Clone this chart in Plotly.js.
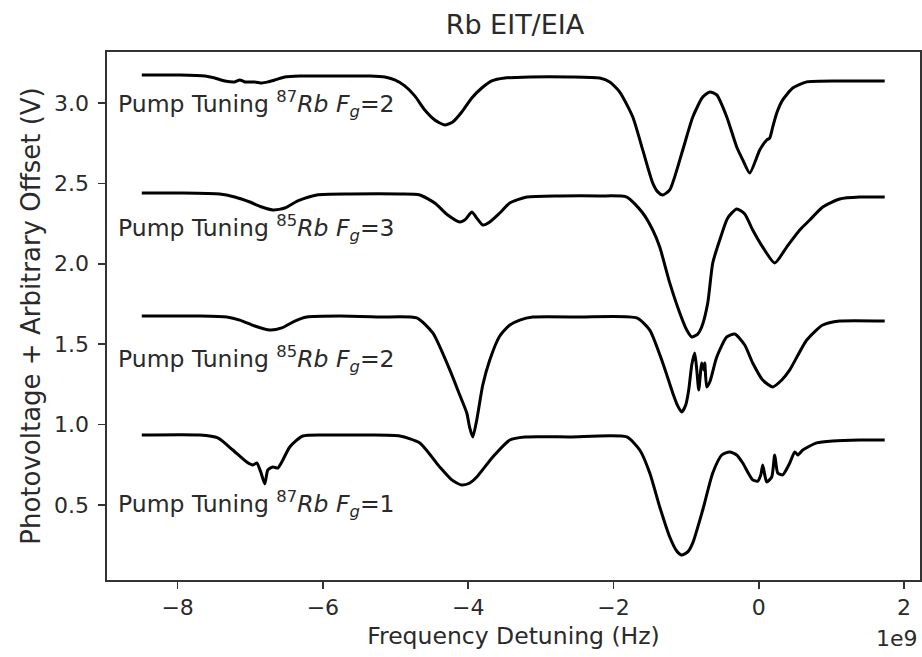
<!DOCTYPE html>
<html>
<head>
<meta charset="utf-8">
<script src="https://cdn.plot.ly/plotly-3.0.1.min.js"></script>
<style>html,body{margin:0;padding:0;background:#fff;}#chart{width:922px;height:657px;}</style>
</head>
<body>
<div id="chart"></div>
<script>
// Frequency detuning in units of 1e9 Hz; photovoltage + offset in V
const x87Fg2 = [-8.493,-7.970,-7.626,-7.488,-7.350,-7.213,-7.144,-7.075,-6.937,-6.841,-6.758,-6.662,-6.524,-6.318,-5.767,-5.354,-5.148,-5.010,-4.873,-4.735,-4.597,-4.460,-4.322,-4.212,-4.088,-3.950,-3.813,-3.675,-3.496,-3.152,-2.602,-2.189,-2.051,-1.913,-1.734,-1.597,-1.459,-1.390,-1.321,-1.225,-1.046,-0.908,-0.771,-0.674,-0.578,-0.440,-0.303,-0.220,-0.124,0.014,0.110,0.151,0.193,0.248,0.330,0.468,0.661,1.115,1.734];
const y87Fg2 = [3.174,3.174,3.168,3.155,3.137,3.131,3.143,3.131,3.131,3.124,3.131,3.143,3.162,3.168,3.168,3.168,3.162,3.143,3.106,3.044,2.956,2.894,2.863,2.882,2.944,3.031,3.093,3.137,3.155,3.162,3.162,3.155,3.131,3.068,2.913,2.708,2.502,2.447,2.428,2.459,2.708,2.913,3.037,3.068,3.050,2.913,2.726,2.646,2.565,2.708,2.770,2.782,2.851,2.938,3.019,3.093,3.131,3.137,3.137];

const x85Fg3 = [-8.493,-7.970,-7.419,-7.213,-7.006,-6.841,-6.690,-6.524,-6.346,-6.084,-5.630,-4.941,-4.666,-4.460,-4.281,-4.116,-4.033,-3.950,-3.882,-3.799,-3.703,-3.565,-3.427,-3.193,-2.739,-2.189,-1.817,-1.597,-1.459,-1.363,-1.225,-1.087,-0.991,-0.922,-0.840,-0.785,-0.702,-0.633,-0.537,-0.427,-0.303,-0.193,-0.083,0.055,0.220,0.385,0.564,0.702,0.881,1.115,1.390,1.734];
const y85Fg3 = [2.440,2.440,2.434,2.415,2.384,2.353,2.335,2.347,2.391,2.428,2.434,2.434,2.428,2.378,2.303,2.260,2.278,2.322,2.284,2.241,2.260,2.316,2.378,2.415,2.422,2.422,2.415,2.316,2.210,2.104,1.881,1.694,1.588,1.545,1.563,1.607,1.756,2.005,2.148,2.285,2.341,2.310,2.210,2.104,2.005,2.104,2.210,2.272,2.353,2.403,2.415,2.415];

const x85Fg2 = [-8.493,-7.694,-7.323,-7.144,-6.937,-6.731,-6.566,-6.387,-6.222,-5.767,-5.217,-4.708,-4.487,-4.253,-4.116,-4.019,-3.978,-3.937,-3.882,-3.799,-3.703,-3.565,-3.427,-3.290,-3.111,-2.464,-1.679,-1.500,-1.321,-1.184,-1.115,-1.060,-1.005,-0.964,-0.922,-0.881,-0.853,-0.826,-0.798,-0.785,-0.757,-0.743,-0.716,-0.674,-0.578,-0.440,-0.330,-0.193,-0.083,0.055,0.193,0.317,0.427,0.661,0.881,1.115,1.734];
const y85Fg2 = [1.675,1.675,1.669,1.650,1.613,1.588,1.601,1.644,1.669,1.675,1.669,1.663,1.570,1.340,1.184,1.072,0.979,0.923,1.029,1.246,1.402,1.551,1.619,1.650,1.669,1.669,1.663,1.588,1.383,1.197,1.116,1.078,1.122,1.215,1.371,1.445,1.340,1.215,1.340,1.383,1.340,1.383,1.234,1.265,1.420,1.545,1.563,1.495,1.383,1.277,1.234,1.277,1.340,1.526,1.619,1.644,1.644];

const x87Fg1 = [-8.493,-7.694,-7.447,-7.240,-7.048,-6.965,-6.910,-6.855,-6.800,-6.758,-6.690,-6.621,-6.566,-6.456,-6.277,-5.905,-5.354,-4.941,-4.666,-4.391,-4.226,-4.088,-3.978,-3.882,-3.661,-3.427,-3.221,-2.602,-1.817,-1.638,-1.500,-1.363,-1.225,-1.129,-1.060,-0.977,-0.908,-0.771,-0.633,-0.509,-0.399,-0.303,-0.220,-0.083,-0.014,0.028,0.055,0.083,0.110,0.179,0.220,0.262,0.330,0.427,0.496,0.537,0.606,0.798,1.019,1.390,1.734];
const y87Fg1 = [0.935,0.935,0.917,0.842,0.767,0.749,0.761,0.705,0.631,0.718,0.736,0.730,0.767,0.861,0.929,0.935,0.935,0.929,0.886,0.736,0.656,0.624,0.637,0.674,0.799,0.904,0.923,0.923,0.923,0.842,0.699,0.488,0.301,0.214,0.189,0.208,0.264,0.469,0.699,0.811,0.830,0.811,0.761,0.656,0.649,0.687,0.749,0.687,0.643,0.674,0.811,0.699,0.687,0.761,0.830,0.811,0.842,0.886,0.898,0.904,0.904];

const labelTexts = [
  'Pump Tuning <sup>87</sup><i>Rb F<sub>g</sub></i>=2',
  'Pump Tuning <sup>85</sup><i>Rb F<sub>g</sub></i>=3',
  'Pump Tuning <sup>85</sup><i>Rb F<sub>g</sub></i>=2',
  'Pump Tuning <sup>87</sup><i>Rb F<sub>g</sub></i>=1'
];
const labelY = [2.994, 2.22, 1.41, 0.506];
const labelX = -8.85;

const xTickVals = [-8,-6,-4,-2,0,2];
const xTickText = ['\u22128','\u22126','\u22124','\u22122','0','2'];
const yTickVals = [0.5,1.0,1.5,2.0,2.5,3.0];
const yTickText = ['0.5','1.0','1.5','2.0','2.5','3.0'];

const FONT = 'DejaVu Sans, sans-serif';
const line = {color:'#000', width:3, shape:'spline', smoothing:0.6};
const series = [[x87Fg2,y87Fg2],[x85Fg3,y85Fg3],[x85Fg2,y85Fg2],[x87Fg1,y87Fg1]];
const traces = series.map(s => ({x:s[0], y:s[1], type:'scatter', mode:'lines', line:line, hoverinfo:'skip'}));

const annotations = labelTexts.map((t,i) => ({
  x: labelX, y: labelY[i], xref:'x', yref:'y', text:t, showarrow:false,
  xanchor:'left', yanchor:'middle', font:{family:FONT, size:23.5, color:'#2a2a2a'}
}));
annotations.push({x:1, y:0, xref:'paper', yref:'paper', xanchor:'right', yanchor:'top', yshift:-44,
  text:'1e9', showarrow:false, font:{family:FONT, size:22, color:'#2a2a2a'}});

const layout = {
  width:922, height:657,
  margin:{l:107, r:2, t:52, b:77},
  paper_bgcolor:'#fff', plot_bgcolor:'#fff',
  showlegend:false,
  title:{text:'Rb EIT/EIA', font:{family:FONT, size:27, color:'#2a2a2a'}, x:0.5585, xanchor:'center', y:0.963, yanchor:'middle'},
  xaxis:{range:[-8.972,2.22], tickvals:xTickVals, ticktext:xTickText, showgrid:false, zeroline:false,
    showline:true, mirror:true, linecolor:'#333', linewidth:1.6, ticks:'outside', ticklen:7, tickwidth:1.6, tickcolor:'#333',
    tickfont:{family:FONT, size:22, color:'#2a2a2a'},
    title:{text:'Frequency Detuning (Hz)', font:{family:FONT, size:23.5, color:'#2a2a2a'}, standoff:8}},
  yaxis:{range:[0.0336,3.317], tickvals:yTickVals, ticktext:yTickText, showgrid:false, zeroline:false,
    showline:true, mirror:true, linecolor:'#333', linewidth:1.6, ticks:'outside', ticklen:7, tickwidth:1.6, tickcolor:'#333',
    tickfont:{family:FONT, size:22, color:'#2a2a2a'}, ticklabelstandoff:5,
    title:{text:'Photovoltage + Arbitrary Offset (V)', font:{family:FONT, size:26, color:'#2a2a2a'}, standoff:6}},
  annotations: annotations
};

Plotly.newPlot('chart', traces, layout, {displayModeBar:false, staticPlot:true});
</script>
</body>
</html>
